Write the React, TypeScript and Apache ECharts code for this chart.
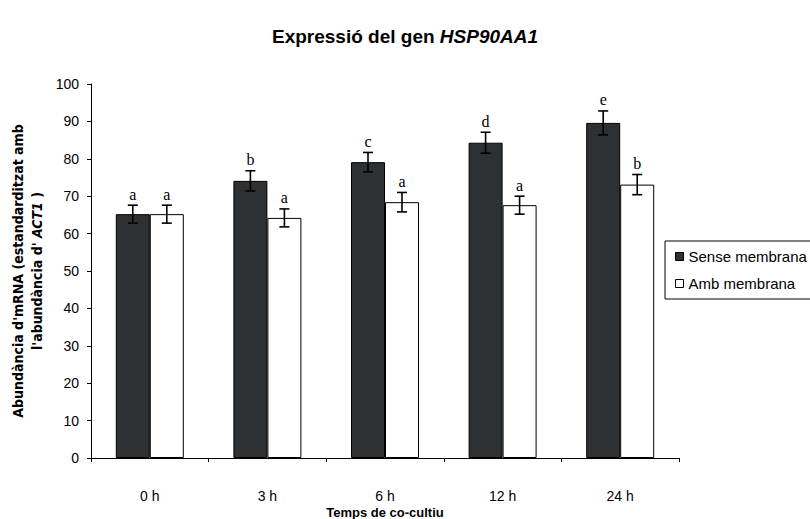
import React, { useEffect, useRef } from 'react';
import * as echarts from 'echarts';

const categories = ['0 h', '3 h', '6 h', '12 h', '24 h'];
const senseName = 'Sense membrana';
const ambName = 'Amb membrana';
const senseValues = [65.2, 74.1, 79.1, 84.3, 89.6];
const senseErrors = [2.4, 2.7, 2.6, 2.8, 3.2];
const senseLetters = ['a', 'b', 'c', 'd', 'e'];
const ambValues = [65.2, 64.2, 68.4, 67.6, 73.1];
const ambErrors = [2.4, 2.4, 2.6, 2.4, 2.7];
const ambLetters = ['a', 'a', 'a', 'a', 'b'];
const yMin = 0;
const yMax = 100;
const yInterval = 10;

const BAR_W = 34;
const SANS = '"Liberation Sans", Arial, sans-serif';

function errorSeries(name: string, values: number[], errors: number[], letters: string[], offset: number) {
  return {
    name,
    type: 'custom',
    silent: true,
    z: 10,
    data: values.map((v, i) => [i, v, errors[i]]),
    renderItem: (params: any, api: any) => {
      const i = api.value(0);
      const v = api.value(1);
      const e = api.value(2);
      const hi = api.coord([i, v + e]);
      const lo = api.coord([i, v - e]);
      const x = hi[0] + offset;
      const cap = 5;
      const st = { stroke: '#000', lineWidth: 1.6 };
      return {
        type: 'group',
        children: [
          { type: 'line', shape: { x1: x, y1: hi[1], x2: x, y2: lo[1] }, style: st },
          { type: 'line', shape: { x1: x - cap, y1: hi[1], x2: x + cap, y2: hi[1] }, style: st },
          { type: 'line', shape: { x1: x - cap, y1: lo[1], x2: x + cap, y2: lo[1] }, style: st },
          {
            type: 'text',
            x,
            y: hi[1] - 3,
            style: {
              text: letters[params.dataIndex],
              textAlign: 'center',
              textVerticalAlign: 'bottom',
              fontFamily: '"Liberation Serif", "Times New Roman", serif',
              fontSize: 16,
              fill: '#000',
            },
          },
        ],
      };
    },
  };
}

export default function App() {
  const ref = useRef<HTMLDivElement>(null);
  useEffect(() => {
    if (!ref.current) return;
    const chart = echarts.init(ref.current, undefined, { renderer: 'svg' });
    chart.setOption({
      animation: false,
      backgroundColor: '#fff',
      title: {
        text: '{a|Expressió del gen }{b|HSP90AA1}',
        left: 400,
        textAlign: 'center',
        top: 22,
        textStyle: {
          rich: {
            a: { fontFamily: SANS, fontWeight: 'bold', fontSize: 19, color: '#000' },
            b: { fontFamily: SANS, fontWeight: 'bold', fontStyle: 'italic', fontSize: 19, color: '#000' },
          },
        },
      },
      legend: {
        orient: 'vertical',
        left: 665,
        top: 241,
        data: [senseName, ambName],
        icon: 'rect',
        itemWidth: 8,
        itemHeight: 8,
        itemGap: 12,
        padding: [8, 40, 8, 10],
        borderColor: '#000',
        borderWidth: 1,
        borderRadius: 0,
        itemStyle: { borderColor: '#000', borderWidth: 1 },
        textStyle: { fontFamily: SANS, fontSize: 15, color: '#000', padding: [0, 0, 0, 0] },
      },
      grid: { left: 91, right: 131, top: 84, bottom: 61, outerBoundsMode: 'none', containLabel: false },
      xAxis: {
        type: 'category',
        data: categories,
        axisLine: { lineStyle: { color: '#000', width: 1 } },
        axisTick: { show: true, length: 4, lineStyle: { color: '#000' } },
        axisLabel: { fontFamily: SANS, fontSize: 14, color: '#000', margin: 31 },
        name: 'Temps de co-cultiu',
        nameLocation: 'middle',
        nameMoveOverlap: false,
        nameGap: 48,
        nameTextStyle: { fontFamily: SANS, fontSize: 13, fontWeight: 'bold', color: '#000', lineHeight: 13 },
      },
      yAxis: {
        type: 'value',
        min: yMin,
        max: yMax,
        interval: yInterval,
        splitLine: { show: false },
        axisLine: { show: true, lineStyle: { color: '#000', width: 1 } },
        axisTick: { show: true, length: 4, lineStyle: { color: '#000' } },
        axisLabel: { fontFamily: SANS, fontSize: 14, color: '#000', margin: 12 },
        name:
          "{b|Abundància d'mRNA (estandarditzat amb}\n{b|l'abundància d' }{i|ACT1}{b| )}",
        nameLocation: 'middle',
        nameMoveOverlap: false,
        nameRotate: 90,
        nameGap: 45,
        nameTextStyle: {
          lineHeight: 19,
          rich: {
            b: {
              fontFamily: '"Liberation Sans Narrow", "DejaVu Sans Condensed", ' + SANS,
              fontWeight: 'bold',
              fontSize: 14,
              color: '#000',
              lineHeight: 19,
            },
            i: {
              fontFamily: '"Liberation Sans Narrow", "DejaVu Sans Condensed", ' + SANS,
              fontWeight: 'bold',
              fontStyle: 'italic',
              fontSize: 14,
              color: '#000',
              lineHeight: 19,
            },
          },
        },
      },
      series: [
        {
          name: senseName,
          type: 'bar',
          data: senseValues,
          barWidth: BAR_W,
          barGap: '0%',
          itemStyle: { color: '#2e3134', borderColor: '#000', borderWidth: 1 },
        },
        {
          name: ambName,
          type: 'bar',
          data: ambValues,
          barWidth: BAR_W,
          barGap: '0%',
          itemStyle: { color: '#ffffff', borderColor: '#000', borderWidth: 1 },
        },
        errorSeries('err1', senseValues, senseErrors, senseLetters, -BAR_W / 2),
        errorSeries('err2', ambValues, ambErrors, ambLetters, BAR_W / 2),
      ],
    });
    return () => chart.dispose();
  }, []);
  return <div ref={ref} style={{ width: 810, height: 519, position: 'absolute', left: 0, top: 0 }} />;
}
